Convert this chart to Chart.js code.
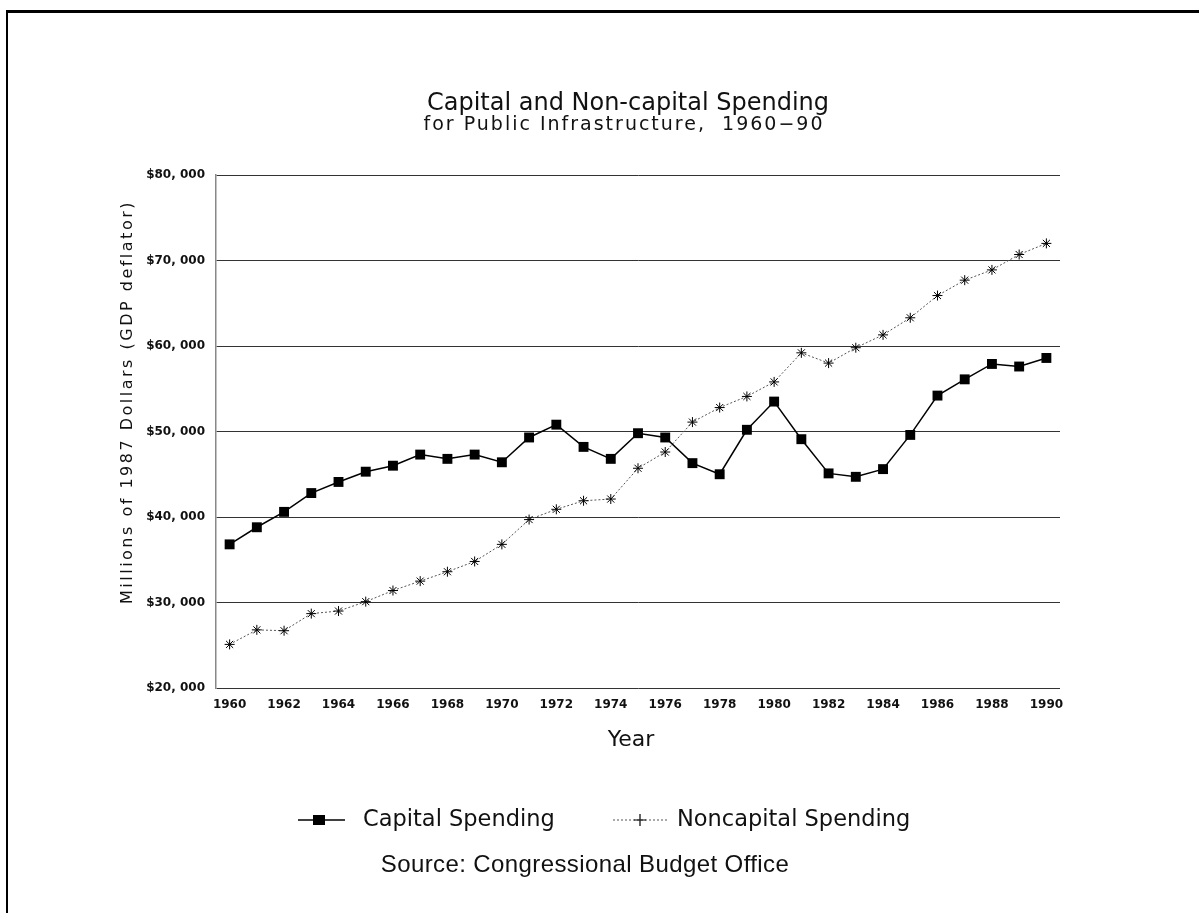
<!DOCTYPE html>
<html>
<head>
<meta charset="utf-8">
<script src="https://cdn.jsdelivr.net/npm/chart.js@4/dist/chart.umd.min.js"></script>
<style>
  html, body { margin: 0; padding: 0; background: #fff; }
  #wrap { position: relative; width: 1199px; height: 913px; }
</style>
</head>
<body>
<div id="wrap"><canvas id="spendingChart" width="1199" height="913"></canvas></div>
<script>
var years = ["1960","1961","1962","1963","1964","1965","1966","1967","1968","1969",
             "1970","1971","1972","1973","1974","1975","1976","1977","1978","1979",
             "1980","1981","1982","1983","1984","1985","1986","1987","1988","1989","1990"];

// millions of 1987 dollars
var capitalSpending = [36800, 38800, 40600, 42800, 44100, 45300, 46000, 47300, 46800, 47300,
                       46400, 49300, 50800, 48200, 46800, 49800, 49300, 46300, 45000, 50200,
                       53500, 49100, 45100, 44700, 45600, 49600, 54200, 56100, 57900, 57600, 58600];
var noncapitalSpending = [25100, 26800, 26700, 28700, 29000, 30100, 31400, 32500, 33600, 34800,
                          36800, 39700, 40900, 41900, 42100, 45700, 47600, 51100, 52800, 54100,
                          55800, 59200, 58000, 59800, 61300, 63300, 65900, 67700, 68900, 70700, 72000];

var yTicks = [20000, 30000, 40000, 50000, 60000, 70000, 80000];

var titleText = "Capital and Non-capital Spending";
var subtitleText = "for Public Infrastructure,  1960\u221290";
var yTitle = "Millions of 1987 Dollars (GDP deflator)";
var xTitle = "Year";
var seriesNames = ["Capital Spending", "Noncapital Spending"];
var sourceText = "Source: Congressional Budget Office";

var HERSHEY = "'DejaVu Sans', sans-serif";

// frame, titles, legend and source note drawn around the plot
var decorPlugin = {
  id: 'decor',
  afterDraw: function(chart) {
    var ctx = chart.ctx;
    ctx.save();

    // scanned page frame
    ctx.fillStyle = '#000';
    ctx.fillRect(6, 10, 1193, 3);
    ctx.fillRect(6, 10, 2, 903);

    ctx.fillStyle = '#111';
    ctx.textAlign = 'center';
    ctx.textBaseline = 'middle';
    ctx.font = '24px ' + HERSHEY;
    ctx.fillText(titleText, 628, 104);
    ctx.font = '19px ' + HERSHEY;
    ctx.letterSpacing = '2px';
    ctx.fillText(subtitleText, 624, 125);
    ctx.letterSpacing = '0px';

    ctx.font = '22px ' + HERSHEY;
    ctx.fillText(xTitle, 631, 740);

    ctx.save();
    ctx.translate(128, 402);
    ctx.rotate(-Math.PI / 2);
    ctx.font = '16px ' + HERSHEY;
    ctx.letterSpacing = '2.5px';
    ctx.fillText(yTitle, 0, 0);
    ctx.restore();

    // legend
    var ly = 820;
    ctx.strokeStyle = '#000';
    ctx.lineWidth = 1.5;
    ctx.beginPath();
    ctx.moveTo(298, ly); ctx.lineTo(345, ly);
    ctx.stroke();
    ctx.fillStyle = '#000';
    ctx.fillRect(313, ly - 5, 12, 10);

    ctx.strokeStyle = '#555';
    ctx.lineWidth = 1;
    ctx.setLineDash([2, 2]);
    ctx.beginPath();
    ctx.moveTo(613, ly); ctx.lineTo(668, ly);
    ctx.stroke();
    ctx.setLineDash([]);
    ctx.strokeStyle = '#000';
    ctx.lineWidth = 1.2;
    ctx.beginPath();
    ctx.moveTo(634, ly); ctx.lineTo(646, ly);
    ctx.moveTo(640, ly - 6); ctx.lineTo(640, ly + 6);
    ctx.stroke();

    ctx.fillStyle = '#111';
    ctx.textAlign = 'left';
    ctx.font = '22.5px ' + HERSHEY;
    ctx.fillText(seriesNames[0], 363, ly);
    ctx.fillText(seriesNames[1], 677, ly);

    ctx.textAlign = 'center';
    ctx.font = '24px "Liberation Sans", Arial, sans-serif';
    ctx.letterSpacing = '0.4px';
    ctx.fillText(sourceText, 585, 865);

    ctx.restore();
  }
};

var ctx = document.getElementById('spendingChart').getContext('2d');
new Chart(ctx, {
  type: 'line',
  data: {
    labels: years,
    datasets: [
      {
        label: seriesNames[0],
        data: capitalSpending,
        borderColor: '#000',
        borderWidth: 1.5,
        backgroundColor: '#000',
        pointStyle: 'rect',
        pointRadius: 7,
        pointBorderWidth: 0,
        tension: 0
      },
      {
        label: seriesNames[1],
        data: noncapitalSpending,
        borderColor: '#555',
        borderWidth: 1,
        borderDash: [2, 2],
        pointStyle: 'star',
        pointRadius: 5,
        pointBorderColor: '#000',
        pointBorderWidth: 1,
        backgroundColor: '#000',
        tension: 0
      }
    ]
  },
  options: {
    responsive: false,
    animation: false,
    events: [],
    layout: { padding: { left: 0, right: 139, top: 175, bottom: 185 } },
    plugins: {
      legend: { display: false },
      title: { display: false },
      tooltip: { enabled: false }
    },
    scales: {
      x: {
        type: 'category',
        offset: true,
        grid: { display: false, drawTicks: false },
        border: { display: false },
        ticks: {
          autoSkip: false,
          maxRotation: 0,
          padding: 10,
          color: '#111',
          font: { family: HERSHEY, size: 12, weight: 'bold' },
          callback: function(val, i) { return i % 2 === 0 ? years[i] : ''; }
        },
        afterFit: function(scale) { scale.height = 40; }
      },
      y: {
        min: yTicks[0],
        max: yTicks[yTicks.length - 1],
        grid: { color: '#333', lineWidth: 1, drawTicks: false },
        border: { display: true, color: '#888', width: 1.5 },
        ticks: {
          stepSize: yTicks[1] - yTicks[0],
          padding: 11,
          color: '#111',
          font: { family: HERSHEY, size: 12, weight: 'bold' },
          callback: function(v) { return '$' + (v / 1000) + ', 000'; }
        },
        afterFit: function(scale) { scale.width = 216; }
      }
    }
  },
  plugins: [decorPlugin]
});
</script>
</body>
</html>
